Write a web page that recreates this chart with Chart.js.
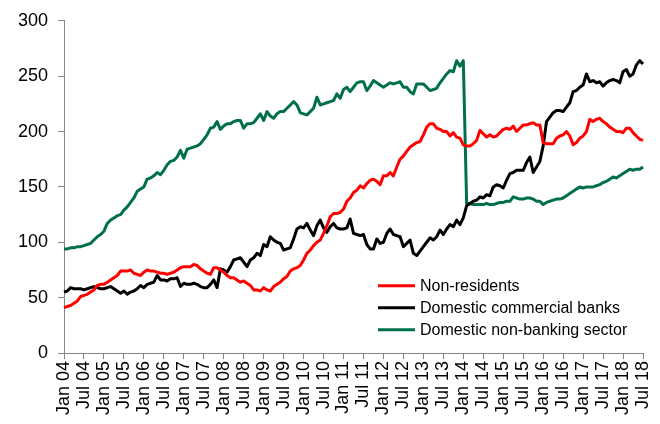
<!DOCTYPE html>
<html>
<head>
<meta charset="utf-8">
<script src="https://cdn.jsdelivr.net/npm/chart.js@4.4.0/dist/chart.umd.min.js"></script>
<style>
html, body { margin: 0; padding: 0; background: #fff; }
#wrap { width: 660px; height: 424px; }
</style>
</head>
<body>
<div id="wrap"><canvas id="chart"></canvas></div>
<script>
// monthly categories Jan 04 .. Jul 18
var monthNames = ['Jan', 'Feb', 'Mar', 'Apr', 'May', 'Jun', 'Jul', 'Aug', 'Sep', 'Oct', 'Nov', 'Dec'];
var months = [];
for (var yr = 4; yr <= 18; yr++) {
	for (var mo = 0; mo < 12; mo++) {
		if (yr === 18 && mo > 6) break;
		months.push(monthNames[mo] + ' ' + (yr < 10 ? '0' + yr : '' + yr));
	}
}

var seriesNames = ['Non-residents', 'Domestic commercial banks', 'Domestic non-banking sector'];
var seriesColors = ['#ff0000', '#000000', '#00704a'];

var nonResidents = [
	41, 42, 43, 45, 47, 51, 52, 53, 55, 57, 61, 62,
	62, 64, 66, 68, 70, 74, 74, 74, 75, 72, 71, 70,
	73, 75, 74, 74, 73, 72, 72, 71, 72, 73, 75, 77,
	78, 78, 78, 80, 79, 76, 74, 72, 71, 77, 77, 75,
	73, 70, 68, 68, 66, 64, 65, 63, 61, 57, 57, 56,
	59, 57, 56, 60, 62, 64, 67, 69, 74, 76, 77, 79,
	84, 90, 93, 97, 100, 102, 108, 115, 123, 126, 126, 127,
	130, 137, 140, 145, 147, 151, 149, 153, 156, 157, 155, 152,
	160, 160, 163, 160, 168, 175, 178, 182, 186, 188, 190, 191,
	197, 204, 207, 207, 203, 202, 200, 200, 196, 199, 195, 194,
	188, 187, 187, 189, 192, 201, 198, 195, 197, 195, 196, 199,
	202, 203, 202, 205, 200, 203, 206, 206, 207, 208, 206, 206,
	190, 189, 189, 189, 194, 196, 197, 200, 196, 188, 190, 194,
	196, 200, 211, 209, 211, 212, 209, 207, 204, 202, 200, 200,
	199, 203, 203, 199, 196, 193, 192
];

var domesticBanks = [
	55, 56, 59, 58, 58, 58, 57, 58, 59, 60, 59, 58,
	58, 59, 60, 58, 56, 54, 56, 53, 55, 56, 58, 61,
	59, 62, 63, 64, 70, 66, 66, 65, 67, 67, 68, 60,
	63, 62, 62, 63, 62, 60, 59, 59, 62, 66, 59, 76,
	75, 73, 78, 84, 85, 86, 82, 78, 84, 86, 90, 88,
	98, 96, 105, 102, 100, 99, 93, 94, 95, 103, 112, 114,
	113, 117, 111, 106, 115, 120, 113, 109, 114, 117, 113, 112,
	112, 113, 121, 108, 107, 106, 107, 98, 94, 94, 103, 99,
	100, 108, 112, 107, 106, 105, 96, 99, 102, 90, 88, 92,
	96, 100, 104, 102, 105, 111, 107, 112, 116, 114, 120, 116,
	122, 133, 135, 137, 138, 141, 140, 143, 142, 150, 152, 151,
	149, 156, 162, 163, 165, 165, 165, 172, 177, 163, 168, 173,
	187, 209, 213, 217, 219, 219, 218, 222, 226, 236, 237, 240,
	242, 252, 245, 246, 244, 245, 241, 244, 246, 247, 246, 244,
	254, 256, 250, 252, 260, 264, 261
];

var domesticNonBanking = [
	94, 94, 95, 95, 96, 96, 97, 98, 99, 102, 105, 107,
	110, 117, 120, 122, 124, 125, 129, 132, 136, 140, 146, 148,
	150, 157, 158, 160, 163, 161, 165, 170, 173, 174, 177, 183,
	176, 184, 185, 186, 187, 189, 193, 197, 203, 204, 209, 202,
	205, 207, 207, 209, 210, 210, 203, 207, 207, 208, 212, 216,
	210, 218, 214, 212, 216, 218, 218, 221, 224, 227, 224, 217,
	216, 215, 218, 221, 231, 224, 225, 226, 227, 228, 234, 230,
	238, 240, 236, 240, 244, 245, 245, 237, 241, 246, 244, 242,
	240, 242, 244, 243, 244, 245, 240, 240, 236, 234, 243, 243,
	243, 240, 237, 238, 239, 244, 248, 252, 255, 254, 264, 259,
	264, 135, 135, 134, 134, 134, 134, 135, 134, 134, 135, 136,
	136, 137, 137, 141, 140, 139, 139, 140, 140, 139, 137, 137,
	134, 136, 137, 138, 139, 139, 140, 142, 144, 146, 148, 150,
	149, 150, 150, 150, 151, 152, 154, 155, 157, 159, 158, 160,
	162, 164, 166, 165, 166, 166, 168
];

var axisColor = '#868686';
var fontFamily = '"Liberation Sans", Arial, sans-serif';

// legend drawn inside the plot, lower right
var insideLegend = {
	id: 'insideLegend',
	afterDraw: function (chart) {
		var ctx = chart.ctx;
		var area = chart.chartArea;
		var x0 = 378;
		ctx.save();
		ctx.font = '16px ' + fontFamily;
		ctx.textBaseline = 'middle';
		chart.data.datasets.forEach(function (ds, i) {
			var y = area.top + 265 + i * 22;
			ctx.strokeStyle = ds.borderColor;
			ctx.lineWidth = 3;
			ctx.beginPath();
			ctx.moveTo(x0, y);
			ctx.lineTo(x0 + 37, y);
			ctx.stroke();
			ctx.fillStyle = '#000';
			ctx.fillText(ds.label, x0 + 42, y + 1);
		});
		ctx.restore();
	}
};

var datasets = [nonResidents, domesticBanks, domesticNonBanking].map(function (vals, i) {
	return {
		label: seriesNames[i],
		data: vals,
		borderColor: seriesColors[i],
		borderWidth: 3,
		pointRadius: 0,
		tension: 0,
		borderJoinStyle: 'round',
		fill: false
	};
});

var ctx = document.getElementById('chart').getContext('2d');
new Chart(ctx, {
	type: 'line',
	data: { labels: months, datasets: datasets },
	options: {
		responsive: true,
		maintainAspectRatio: false,
		animation: false,
		layout: { padding: { top: 20, right: 17, left: 0, bottom: 0 } },
		plugins: {
			legend: { display: false },
			tooltip: { enabled: false }
		},
		scales: {
			x: {
				offset: false,
				border: { color: axisColor, width: 1 },
				grid: {
					drawOnChartArea: false,
					drawTicks: true,
					tickLength: 6,
					color: function (c) { return c.index % 6 === 0 ? axisColor : 'rgba(0,0,0,0)'; }
				},
				ticks: {
					autoSkip: false,
					minRotation: 90,
					maxRotation: 90,
					padding: 2,
					color: '#000',
					font: { family: fontFamily, size: 18 },
					callback: function (v, i) { return i % 6 === 0 ? months[i] : ''; }
				},
				afterFit: function (s) {
					s.height = 71;
					s.paddingLeft = 0;
					s.paddingRight = 0;
				}
			},
			y: {
				min: 0,
				max: 300,
				border: { color: axisColor, width: 1 },
				grid: { drawOnChartArea: false, drawTicks: true, tickLength: 6, color: axisColor },
				ticks: {
					stepSize: 50,
					padding: 10,
					color: '#000',
					font: { family: fontFamily, size: 18 }
				},
				afterFit: function (s) { s.width = 64; }
			}
		}
	},
	plugins: [insideLegend]
});
</script>
</body>
</html>
